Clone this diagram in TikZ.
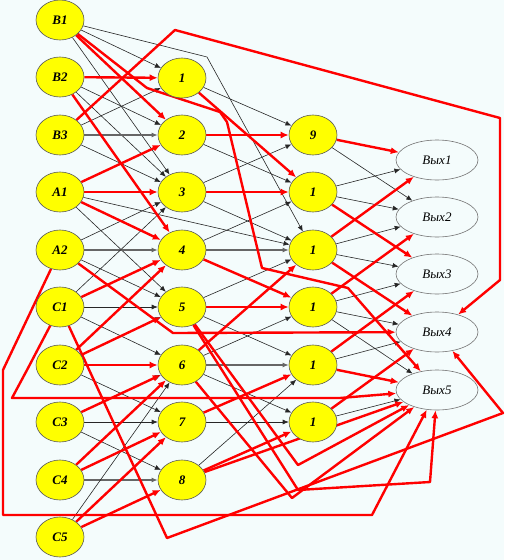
\documentclass[tikz,border=0pt]{standalone}
\usepackage{fontspec}
\setmainfont{Liberation Serif}
\usetikzlibrary{shapes.geometric,arrows.meta}
\definecolor{bgc}{RGB}{244,252,252}
\definecolor{yel}{RGB}{255,255,0}
\definecolor{rd}{RGB}{255,0,0}
\pgfdeclarelayer{back}
\pgfdeclarelayer{edges}
\pgfsetlayers{back,edges,main}
\begin{document}
\begin{tikzpicture}[x=1pt,y=-1pt,
  inn/.style={ellipse, draw=black!65, line width=0.6pt, fill=yel, minimum width=48pt, minimum height=40pt, inner sep=0pt, font=\fontsize{13}{15}\selectfont\bfseries\itshape},
  outn/.style={ellipse, draw=black!55, line width=0.6pt, fill=bgc, minimum width=82pt, minimum height=40pt, inner sep=0pt, font=\fontsize{13}{15}\selectfont\itshape},
  blk/.style={draw=black!85, line width=0.6pt, -{Latex[length=6pt,width=5pt]}},
  hz/.style={draw=black!60, line width=1.2pt, -{Latex[length=6pt,width=5pt]}},
  rl/.style={draw=rd, line width=2.4pt, line join=round, -{Latex[length=8pt,width=7pt]}}
]
\begin{pgfonlayer}{back}
\fill[bgc] (0,0) rectangle (504,560);
\end{pgfonlayer}
\useasboundingbox (0,0) rectangle (504,560);

% left column
\node[inn] (B1) at (60,20) {B1};
\node[inn] (B2) at (60,77) {B2};
\node[inn] (B3) at (60,135) {B3};
\node[inn] (A1) at (60,192) {A1};
\node[inn] (A2) at (60,250) {A2};
\node[inn] (C1) at (60,307) {C1};
\node[inn] (C2) at (60,365) {C2};
\node[inn] (C3) at (60,422) {C3};
\node[inn] (C4) at (60,480) {C4};
\node[inn] (C5) at (60,537) {C5};
% middle column
\node[inn] (m1) at (182,78) {1};
\node[inn] (m2) at (182,135) {2};
\node[inn] (m3) at (182,192) {3};
\node[inn] (m4) at (182,250) {4};
\node[inn] (m5) at (182,307) {5};
\node[inn] (m6) at (182,365) {6};
\node[inn] (m7) at (182,422) {7};
\node[inn] (m8) at (182,480) {8};
% third column
\node[inn] (t9) at (313,135) {9};
\node[inn] (ta) at (313,192) {1};
\node[inn] (tb) at (313,250) {1};
\node[inn] (tc) at (313,307) {1};
\node[inn] (td) at (313,365) {1};
\node[inn] (te) at (313,422) {1};
% outputs
\node[outn] (o1) at (437,160) {Вых1};
\node[outn] (o2) at (437,217) {Вых2};
\node[outn] (o3) at (437,274) {Вых3};
\node[outn] (o4) at (437,332) {Вых4};
\node[outn] (o5) at (437,390) {Вых5};

\coordinate (k1) at (207,57);
\coordinate (p1) at (175,30);
\coordinate (p2) at (500,118);
\coordinate (p3) at (500,280);
\coordinate (q1) at (147,88);
\coordinate (q2) at (220,112);
\coordinate (q3) at (227,122);
\coordinate (q4) at (262,268);
\coordinate (q5) at (348,288);
\coordinate (r1) at (3,370);
\coordinate (r2) at (3,515);
\coordinate (r3) at (372,515);
\coordinate (s1) at (27,370);
\coordinate (s2) at (12,398);
\coordinate (s3) at (340,398);
\coordinate (h1) at (173,333);
\coordinate (u1) at (167,538);
\coordinate (u2) at (503,413);
\coordinate (v1) at (298,465);
\coordinate (w1) at (298,490);
\coordinate (w2) at (430,482);
\coordinate (z1) at (292,498);

\begin{pgfonlayer}{edges}
% black: left -> middle
\draw[blk] (B1) -- (m1);
\draw[blk] (B1) -- (m3);
\draw[blk] (B1) -- (k1) -- (tb);
\draw[blk] (B2) -- (m2);
\draw[blk] (B2) -- (m3);
\draw[blk] (B3) -- (m1);
\draw[hz]  (B3) -- (m2);
\draw[blk] (B3) -- (m3);
\draw[blk] (A1) -- (m5);
\draw[blk] (A1) -- (tb);
\draw[blk] (A2) -- (m3);
\draw[hz]  (A2) -- (m4);
\draw[blk] (A2) -- (m5);
\draw[blk] (C1) -- (m3);
\draw[blk] (C1) -- (m5);
\draw[blk] (C1) -- (m6);
\draw[blk] (C2) -- (m5);
\draw[blk] (C2) -- (m7);
\draw[blk] (C3) -- (m6);
\draw[blk] (C3) -- (m7);
\draw[blk] (C3) -- (m8);
\draw[hz]  (C4) -- (m8);
\draw[blk] (C5) -- (m6);
% black: middle -> third
\draw[blk] (m1) -- (t9);
\draw[blk] (m2) -- (ta);
\draw[blk] (m3) -- (t9);
\draw[blk] (m3) -- (tb);
\draw[blk] (m4) -- (ta);
\draw[hz]  (m4) -- (tb);
\draw[blk] (m5) -- (tb);
\draw[blk] (m5) -- (td);
\draw[blk] (m6) -- (tc);
\draw[hz]  (m6) -- (td);
\draw[blk] (m6) -- (te);
\draw[blk] (m7) -- (te);
\draw[blk] (m8) -- (td);
% black: third -> outputs
\draw[blk] (t9) -- (o2);
\draw[blk] (ta) -- (o1);
\draw[blk] (ta) -- (o2);
\draw[blk] (tb) -- (o2);
\draw[blk] (tb) -- (o3);
\draw[blk] (tc) -- (o3);
\draw[blk] (tc) -- (o4);
\draw[blk] (tc) -- (o5);
\draw[blk] (td) -- (o4);
\draw[blk] (te) -- (o5);
% red: left -> middle
\draw[rl] (B1) -- (m2);
\draw[rl] (B2) -- (m1);
\draw[rl] (B2) -- (m4);
\draw[rl] (A1) -- (m2);
\draw[rl] (A1) -- (m3);
\draw[rl] (A1) -- (m4);
\draw[rl] (C1) -- (m4);
\draw[rl] (C2) -- (m4);
\draw[rl] (C2) -- (m5);
\draw[rl] (C2) -- (m6);
\draw[rl] (C3) -- (m6);
\draw[rl] (C4) -- (m6);
\draw[rl] (C4) -- (m7);
\draw[rl] (C5) -- (m7);
\draw[rl] (C5) -- (m8);
% red: middle -> third
\draw[rl] (m1) -- (ta);
\draw[rl] (m2) -- (t9);
\draw[rl] (m3) -- (ta);
\draw[rl] (m4) -- (tc);
\draw[rl] (m5) -- (tc);
\draw[rl] (m6) -- (tb);
\draw[rl] (m7) -- (td);
\draw[rl] (m8) -- (te);
% red: third -> outputs
\draw[rl] (t9) -- (o1);
\draw[rl] (ta) -- (o3);
\draw[rl] (tb) -- (o1);
\draw[rl] (tb) -- (o4);
\draw[rl] (tc) -- (o2);
\draw[rl] (td) -- (o3);
\draw[rl] (td) -- (o5);
\draw[rl] (te) -- (o4);
% red: long paths
\draw[rl] (B3) -- (p1) -- (p2) -- (p3) -- (o4);
\draw[rl] (B1) -- (q1) -- (q2) -- (q3) -- (q4) -- (q5) -- (o5);
\draw[rl] (A2) -- (r1) -- (r2) -- (r3) -- (o5);
\draw[rl] (C1) -- (s1) -- (s2) -- (s3) -- (o5);
\draw[rl] (A2) -- (h1) -- (o4);
\draw[rl] (C1) -- (u1) -- (u2) -- (o4);
\draw[rl] (m5) -- (v1) -- (o5);
\draw[rl] (m5) -- (w1) -- (w2) -- (o5);
\draw[rl] (m6) -- (z1) -- (o5);
\draw[rl] (m8) -- (o5);
\end{pgfonlayer}
\end{tikzpicture}
\end{document}
